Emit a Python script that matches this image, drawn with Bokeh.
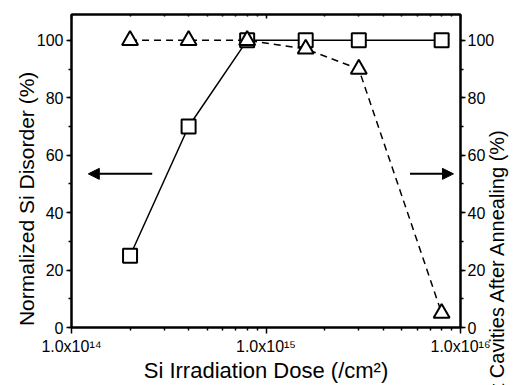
import math
from bokeh.plotting import figure
from bokeh.models import (LogAxis, LinearAxis, FixedTicker, SingleIntervalTicker,
                          Arrow, NormalHead, CustomJSTickFormatter)
from bokeh.embed import file_html
from bokeh.resources import INLINE

# ---- data ----
dose = [2e14, 4e14, 8e14, 1.6e15, 3e15, 8e15]
si_disorder = [25, 70, 100, 100, 100, 100]
au_cavities = [100, 100, 100, 97, 90, 5]

x_major_ticks = [1e14, 1e15, 1e16]
x_tick_labels = ["1.0x10\u00b9\u2074", "1.0x10\u00b9\u2075", "1.0x10\u00b9\u2076"]
x_minor_ticks = [m * d for d in (1e14, 1e15) for m in range(2, 10)]

x_title = "Si Irradiation Dose (/cm\u00b2)"
left_title = "Normalized Si Disorder (%)"
right_title = "Au at Cavities After Annealing (%)"

FONT = "Liberation Sans"

p = figure(width=522, height=385, x_axis_type="log",
           x_range=(1e14, 1e16), y_range=(0, 109),
           output_backend="svg", toolbar_location=None,
           min_border_left=67, min_border_right=56,
           min_border_top=14, min_border_bottom=58)
p.xgrid.visible = False
p.ygrid.visible = False
p.outline_line_color = "black"
p.outline_line_width = 2

fmt = CustomJSTickFormatter(args=dict(mticks=x_major_ticks, mlabels=x_tick_labels), code="""
const i = mticks.findIndex(t => Math.abs(Math.log10(t) - Math.log10(tick)) < 1e-6);
return i >= 0 ? mlabels[i] : '';
""")
xticker = FixedTicker(ticks=x_major_ticks, minor_ticks=x_minor_ticks)


def style(ax):
    ax.axis_line_width = 2
    ax.axis_line_color = "black"
    ax.major_tick_line_width = 1.5
    ax.minor_tick_line_width = 1.5
    ax.major_tick_line_color = "black"
    ax.minor_tick_line_color = "black"
    ax.major_label_text_font = FONT
    ax.major_label_text_font_size = "16px"
    ax.major_label_text_color = "black"
    ax.axis_label_text_font = FONT
    ax.axis_label_text_font_size = "22px"
    ax.axis_label_text_font_style = "normal"
    ax.axis_label_text_color = "black"


def title_axis(text, pos, standoff, size):
    """An axis with no line/ticks whose single tick label is a bottom-to-top title."""
    ax = LinearAxis(ticker=FixedTicker(ticks=[pos], minor_ticks=[]),
                    formatter=CustomJSTickFormatter(args=dict(t=text), code="return t;"))
    ax.axis_line_color = None
    ax.major_tick_line_color = None
    ax.minor_tick_line_color = None
    ax.major_tick_in = 0
    ax.major_tick_out = 0
    ax.minor_tick_in = 0
    ax.minor_tick_out = 0
    ax.major_label_standoff = standoff
    ax.major_label_orientation = math.pi / 2
    ax.major_label_text_font = FONT
    ax.major_label_text_font_size = size
    ax.major_label_text_color = "black"
    return ax


xa = p.xaxis[0]
style(xa)
xa.ticker = xticker
xa.formatter = fmt
xa.axis_label = x_title
xa.major_tick_in = 0
xa.major_tick_out = 6
xa.minor_tick_in = 0
xa.minor_tick_out = 3
xa.major_label_standoff = 4
xa.axis_label_standoff = 0

ya = p.yaxis[0]
style(ya)
ya.ticker = SingleIntervalTicker(interval=20, num_minor_ticks=2)
ya.major_tick_in = 0
ya.major_tick_out = 5
ya.minor_tick_in = 0
ya.minor_tick_out = 3
ya.major_label_standoff = 3
p.add_layout(title_axis(left_title, 47.7, 7, "21px"), "left")

ra = LinearAxis(ticker=SingleIntervalTicker(interval=20, num_minor_ticks=2))
style(ra)
ra.major_tick_in = 0
ra.major_tick_out = 5
ra.minor_tick_in = 0
ra.minor_tick_out = 3
ra.major_label_standoff = 2
p.add_layout(ra, "right")
p.add_layout(title_axis(right_title, 53.0, 0, "20px"), "right")

ta = LogAxis(ticker=FixedTicker(ticks=x_major_ticks, minor_ticks=x_minor_ticks))
style(ta)
ta.major_label_text_font_size = "1px"
ta.major_label_text_alpha = 0
ta.major_label_standoff = 0
ta.major_tick_in = 4
ta.major_tick_out = 0
ta.minor_tick_in = 2
ta.minor_tick_out = 0
p.add_layout(ta, "above")

# ---- series ----
p.line(dose, au_cavities, line_color="black", line_width=1.5, line_dash="7 5")
p.line(dose, si_disorder, line_color="black", line_width=1.5)
p.scatter(dose, si_disorder, marker="square", size=14, line_color="black",
          line_width=2, fill_color="white")
p.scatter(dose, au_cavities, marker="triangle", size=16, line_color="black",
          line_width=2, fill_color="white")

# ---- arrows pointing to each axis ----
p.add_layout(Arrow(end=NormalHead(size=11, fill_color="black", line_color="black"),
                   x_start=2.6e14, y_start=53.5, x_end=1.22e14, y_end=53.5,
                   line_width=2, line_color="black"))
p.add_layout(Arrow(end=NormalHead(size=11, fill_color="black", line_color="black"),
                   x_start=5.5e15, y_start=53.5, x_end=9.2e15, y_end=53.5,
                   line_width=2, line_color="black"))

open("out.html", "w").write(file_html(p, INLINE))
